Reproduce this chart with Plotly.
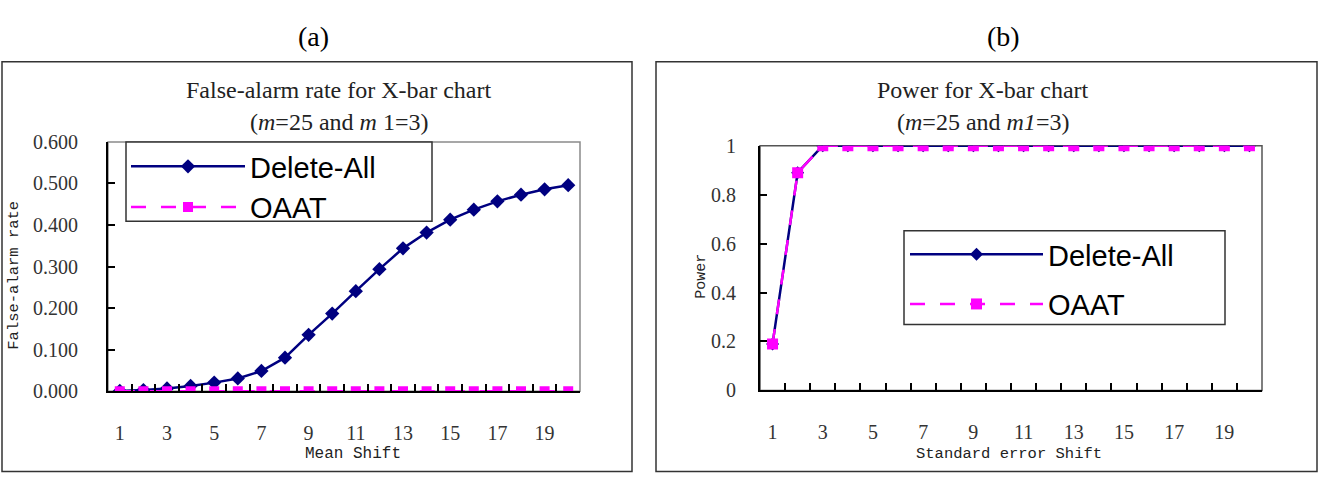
import plotly.graph_objects as go

# ---------------- data ----------------
shift = [1, 2, 3, 4, 5, 6, 7, 8, 9, 10, 11, 12, 13, 14, 15, 16, 17, 18, 19, 20]
x_tick_vals = [1, 3, 5, 7, 9, 11, 13, 15, 17, 19]
x_tick_text = ["1", "3", "5", "7", "9", "11", "13", "15", "17", "19"]

fa_delete_all = [0.001, 0.003, 0.007, 0.013, 0.021, 0.031, 0.049, 0.081, 0.136, 0.187,
                 0.241, 0.294, 0.344, 0.382, 0.413, 0.437, 0.457, 0.473, 0.486, 0.496]
fa_oaat = [0.000, 0.000, 0.000, 0.000, 0.000, 0.000, 0.000, 0.000, 0.000, 0.000,
           0.000, 0.000, 0.000, 0.000, 0.000, 0.000, 0.000, 0.000, 0.000, 0.000]

pw_delete_all = [0.19, 0.89, 1.0, 1.0, 1.0, 1.0, 1.0, 1.0, 1.0, 1.0,
                 1.0, 1.0, 1.0, 1.0, 1.0, 1.0, 1.0, 1.0, 1.0, 1.0]
pw_oaat = [0.19, 0.89, 1.0, 1.0, 1.0, 1.0, 1.0, 1.0, 1.0, 1.0,
           1.0, 1.0, 1.0, 1.0, 1.0, 1.0, 1.0, 1.0, 1.0, 1.0]

fa_ticks = [0.0, 0.1, 0.2, 0.3, 0.4, 0.5, 0.6]
fa_tick_text = ["0.000", "0.100", "0.200", "0.300", "0.400", "0.500", "0.600"]
pw_ticks = [0, 0.2, 0.4, 0.6, 0.8, 1.0]
pw_tick_text = ["0", "0.2", "0.4", "0.6", "0.8", "1"]
minor_vals = [1.5, 2.5, 3.5, 4.5, 5.5, 6.5, 7.5, 8.5, 9.5, 10.5,
              11.5, 12.5, 13.5, 14.5, 15.5, 16.5, 17.5, 18.5, 19.5]

# ---------------- geometry helpers ----------------
W, H = 1326, 496
def px(x):
    return x / W
def py(y):
    return 1 - y / H

NAVY = "#000080"
MAG = "#FF00FF"
SERIF = "Liberation Serif, Times New Roman, serif"
MONO = "Liberation Mono, Courier New, monospace"
SANS = "Liberation Sans, Arial, sans-serif"

fig = go.Figure()

fig.add_trace(go.Scatter(x=shift, y=fa_delete_all, name="Delete-All", mode="lines+markers",
                         line=dict(color=NAVY, width=2.5),
                         marker=dict(symbol="diamond", size=11, color=NAVY),
                         xaxis="x", yaxis="y", legend="legend"))
fig.add_trace(go.Scatter(x=shift, y=fa_oaat, name="OAAT", mode="lines+markers",
                         line=dict(color=MAG, width=2.5, dash="longdash"),
                         marker=dict(symbol="square", size=10, color=MAG),
                         xaxis="x", yaxis="y", legend="legend"))
fig.add_trace(go.Scatter(x=shift, y=pw_delete_all, name="Delete-All", mode="lines+markers",
                         line=dict(color=NAVY, width=2.5),
                         marker=dict(symbol="diamond", size=10, color=NAVY),
                         xaxis="x2", yaxis="y2", legend="legend2", legendgroup="a"))
fig.add_trace(go.Scatter(x=shift, y=pw_oaat, name="OAAT", mode="lines+markers",
                         line=dict(color=MAG, width=2.5, dash="longdash"),
                         marker=dict(symbol="square", size=11, color=MAG),
                         xaxis="x2", yaxis="y2", legend="legend2", legendgroup="b"))

def tickfont():
    return dict(family=SERIF, size=20, color="#333333")

def xaxis_cfg(domain, anchor):
    return dict(domain=domain, anchor=anchor, range=[0.5, 20.5], tickmode="array",
                tickvals=x_tick_vals, ticktext=x_tick_text, ticks="", showgrid=False,
                zeroline=False, showline=True, linecolor="black", linewidth=2,
                tickfont=tickfont(), ticklabelstandoff=23,
                minor=dict(tickmode="array", tickvals=minor_vals, ticks="inside", ticklen=7,
                           tickcolor="black", tickwidth=1.5, showgrid=False))

fig.update_layout(
    width=W, height=H, margin=dict(l=0, r=0, t=0, b=0),
    paper_bgcolor="white", plot_bgcolor="white", showlegend=True,
    xaxis=xaxis_cfg([px(108), px(580)], "y"),
    yaxis=dict(domain=[py(398), py(137)], anchor="x", range=[0, 0.6], tickmode="array",
               tickvals=fa_ticks, ticktext=fa_tick_text, ticks="inside", ticklen=7,
               tickwidth=1.5, tickcolor="black", showgrid=False, zeroline=False,
               showline=True, linecolor="black", linewidth=2, tickfont=tickfont(),
               ticklabelstandoff=24),
    xaxis2=xaxis_cfg([px(760), px(1262)], "y2"),
    yaxis2=dict(domain=[py(397), py(141)], anchor="x2", range=[0, 1.0], tickmode="array",
                tickvals=pw_ticks, ticktext=pw_tick_text, ticks="inside", ticklen=7,
                tickwidth=1.5, tickcolor="black", showgrid=False, zeroline=False,
                showline=True, linecolor="black", linewidth=2, tickfont=tickfont(),
                ticklabelstandoff=18),
    legend=dict(x=px(126), y=py(136), xanchor="left", yanchor="top",
                bgcolor="rgba(0,0,0,0)", borderwidth=0,
                font=dict(family=SANS, size=29, color="black"), itemwidth=114,
                tracegroupgap=0),
    legend2=dict(x=px(905), y=py(228), xanchor="left", yanchor="top",
                 bgcolor="rgba(0,0,0,0)", borderwidth=0,
                 font=dict(family=SANS, size=29, color="black"), itemwidth=133,
                 tracegroupgap=9),
)

shapes = [
    # outer panel boxes
    dict(type="rect", xref="paper", yref="paper", x0=px(2), x1=px(632), y0=py(482), y1=py(53),
         line=dict(color="#333333", width=1.5)),
    dict(type="rect", xref="paper", yref="paper", x0=px(656), x1=px(1317), y0=py(482), y1=py(53),
         line=dict(color="#333333", width=1.5)),
    # plot-area borders (gray)
    dict(type="rect", xref="paper", yref="paper", x0=px(108), x1=px(580), y0=py(398), y1=py(137),
         line=dict(color="#8a8a8a", width=1.5), layer="below"),
    dict(type="rect", xref="paper", yref="paper", x0=px(760), x1=px(1262), y0=py(397), y1=py(141),
         line=dict(color="#555555", width=1.5), layer="below"),
    # legend boxes
    dict(type="rect", xref="paper", yref="paper", x0=px(126), x1=px(432), y0=py(220), y1=py(137),
         line=dict(color="#333333", width=1.5), fillcolor="white", layer="above"),
    dict(type="rect", xref="paper", yref="paper", x0=px(904), x1=px(1225), y0=py(328), y1=py(230),
         line=dict(color="#333333", width=1.5), fillcolor="white", layer="above"),
]
fig.update_layout(shapes=shapes)

ann = []
def text(x, y, s, size, family=SERIF, angle=0, color="black"):
    ann.append(dict(x=px(x), y=py(y), xref="paper", yref="paper", text=s, showarrow=False,
                    xanchor="center", yanchor="middle", textangle=angle,
                    font=dict(family=family, size=size, color=color)))

text(313, 27, "(a)", 28)
text(1003, 27, "(b)", 28)
text(339, 83, "False-alarm rate for X-bar chart", 24, color="#222222")
text(339, 116, "(<i>m</i>=25 and <i>m</i> 1=3)", 24, color="#222222")
text(983, 83, "Power for X-bar chart", 24, color="#222222")
text(983, 116, "(<i>m</i>=25 and <i>m1</i>=3)", 24, color="#222222")
text(353, 464, "Mean Shift", 16, family=MONO, color="#222222")
text(1009, 464, "Standard error Shift", 15.5, family=MONO, color="#222222")
text(14, 277, "False-alarm rate", 15.5, family=MONO, angle=-90, color="#222222")
text(702, 278, "Power", 15, family=MONO, angle=-90, color="#222222")
fig.update_layout(annotations=ann)

fig.write_html("out.html")
